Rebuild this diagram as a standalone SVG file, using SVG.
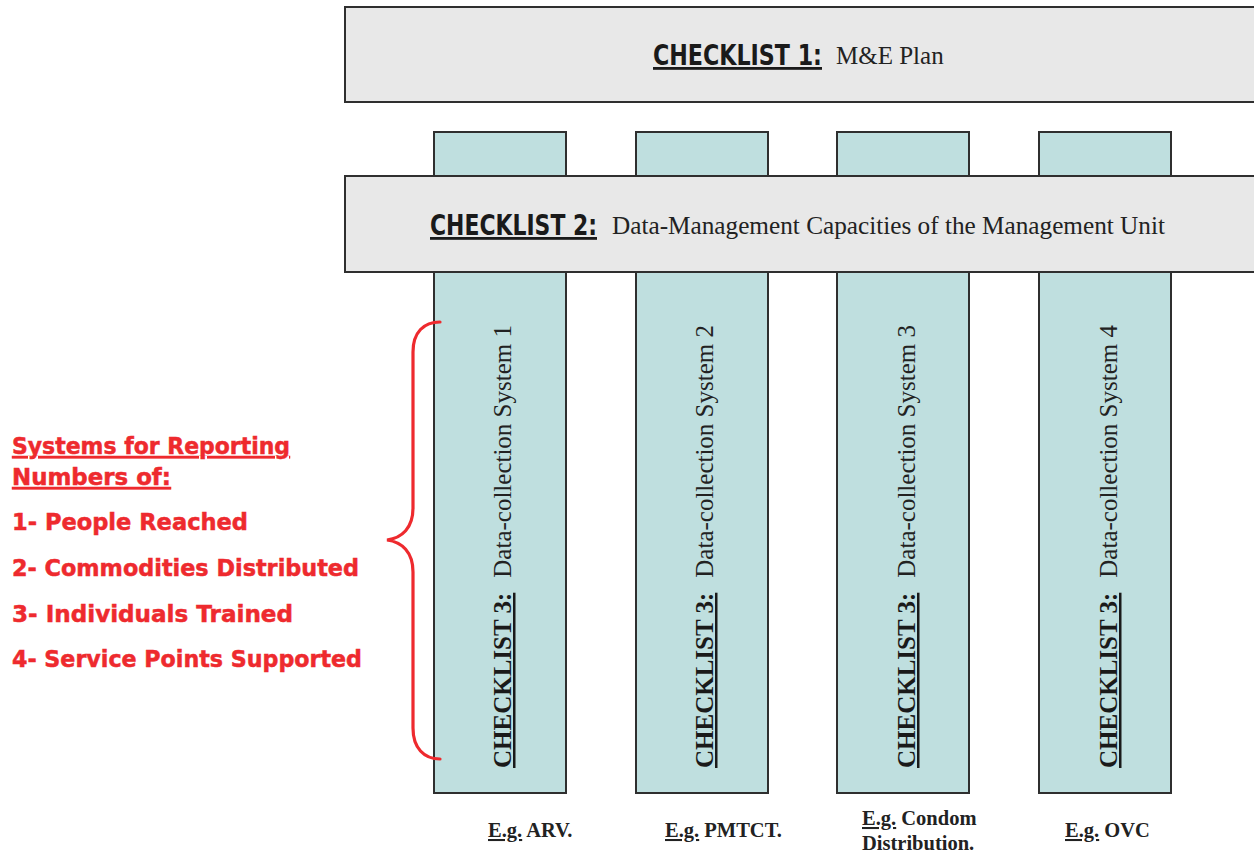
<svg xmlns="http://www.w3.org/2000/svg" width="1254" height="852" viewBox="0 0 1254 852">
<style>
.bar{fill:#e8e8e8;stroke:#2f2f2f;stroke-width:2}
.col{fill:#bfdfdf;stroke:#2f2f2f;stroke-width:2}
.hd{font-family:"DejaVu Sans Condensed","DejaVu Sans",sans-serif;font-weight:bold;font-size:28px;fill:#1a1a1a;text-decoration:underline}
.tm{font-family:"Liberation Serif","Times New Roman",serif;font-size:25px;fill:#222}
.tb{font-family:"Liberation Serif","Times New Roman",serif;font-size:25px;font-weight:bold;fill:#1a1a1a}
.u{text-decoration:underline}
.red{font-family:"DejaVu Sans",sans-serif;font-weight:bold;font-size:23px;fill:#ee2a2e;stroke:#ee2a2e;stroke-width:0.5}
.eg{font-family:"Liberation Serif","Times New Roman",serif;font-size:20.5px;font-weight:bold;fill:#222}
.brace{fill:none;stroke:#ee2a2e;stroke-width:3.2;stroke-linecap:round}
</style>
<rect width="1254" height="852" fill="#ffffff"/>
<g id="col1"><rect class="col" x="434" y="132" width="132" height="661"/>
<text transform="translate(511,768) rotate(-90)"><tspan class="tb u">CHECKLIST 3:</tspan><tspan class="tm" dx="15">Data-collection System 1</tspan></text></g>
<g id="col2"><rect class="col" x="636" y="132" width="132" height="661"/>
<text transform="translate(713,768) rotate(-90)"><tspan class="tb u">CHECKLIST 3:</tspan><tspan class="tm" dx="15">Data-collection System 2</tspan></text></g>
<g id="col3"><rect class="col" x="837" y="132" width="132" height="661"/>
<text transform="translate(915,768) rotate(-90)"><tspan class="tb u">CHECKLIST 3:</tspan><tspan class="tm" dx="15">Data-collection System 3</tspan></text></g>
<g id="col4"><rect class="col" x="1039" y="132" width="132" height="661"/>
<text transform="translate(1117,768) rotate(-90)"><tspan class="tb u">CHECKLIST 3:</tspan><tspan class="tm" dx="15">Data-collection System 4</tspan></text></g>
<g id="checklist1"><rect class="bar" x="345" y="7" width="930" height="95"/>
<text class="hd" x="653" y="65" textLength="169" lengthAdjust="spacingAndGlyphs">CHECKLIST 1:</text>
<text class="tm" x="836" y="64">M&amp;E Plan</text></g>
<g id="checklist2"><rect class="bar" x="345" y="176" width="930" height="96"/>
<text class="hd" x="430" y="235" textLength="167" lengthAdjust="spacingAndGlyphs">CHECKLIST 2:</text>
<text class="tm" x="612" y="234" textLength="553" lengthAdjust="spacingAndGlyphs">Data-Management Capacities of the Management Unit</text></g>
<g id="systems">
<text class="red u" x="12" y="454" textLength="278" lengthAdjust="spacingAndGlyphs">Systems for Reporting</text>
<text class="red u" x="12" y="485" textLength="159" lengthAdjust="spacingAndGlyphs">Numbers of:</text>
<text class="red" x="12" y="530" textLength="236" lengthAdjust="spacingAndGlyphs">1- People Reached</text>
<text class="red" x="12" y="576" textLength="347" lengthAdjust="spacingAndGlyphs">2- Commodities Distributed</text>
<text class="red" x="12" y="622" textLength="281" lengthAdjust="spacingAndGlyphs">3- Individuals Trained</text>
<text class="red" x="12" y="667" textLength="350" lengthAdjust="spacingAndGlyphs">4- Service Points Supported</text>
</g>
<g id="connectors">
<path class="brace" d="M440,322 C424,322 413,332 413,352 L413,508 C413,528 402,538 387,540 C402,542 413,552 413,572 L413,728 C413,748 424,759 440,759"/>
</g>
<g id="examples">
<text class="eg" x="488" y="837"><tspan class="u">E.g.</tspan> ARV.</text>
<text class="eg" x="665" y="837"><tspan class="u">E.g.</tspan> PMTCT.</text>
<text class="eg" x="862" y="825"><tspan class="u">E.g.</tspan> Condom</text>
<text class="eg" x="862" y="850">Distribution.</text>
<text class="eg" x="1065" y="837"><tspan class="u">E.g.</tspan> OVC</text>
</g>
</svg>
